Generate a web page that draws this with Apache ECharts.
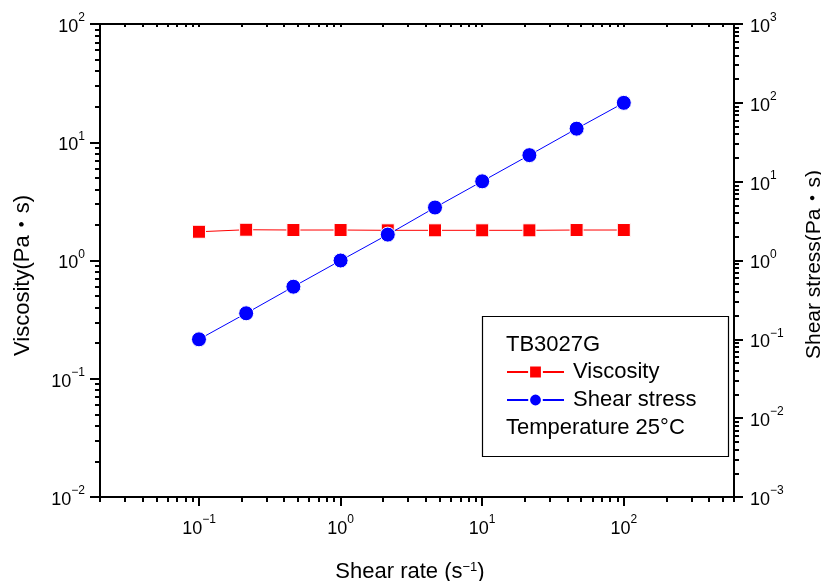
<!DOCTYPE html>
<html>
<head>
<meta charset="utf-8">
<script src="https://cdn.jsdelivr.net/npm/echarts@6/dist/echarts.min.js"></script>
<style>html,body{margin:0;padding:0;background:#fff;}#c{width:821px;height:581px;}</style>
</head>
<body>
<div id="c"></div>
<script>
// ---- data ----
const shearRate   = [0.1, 0.2154, 0.4642, 1, 2.154, 4.642, 10, 21.54, 46.42, 100];
const viscosity   = [1.75, 1.82, 1.81, 1.81, 1.80, 1.80, 1.80, 1.80, 1.81, 1.81];
const shearStress = [0.1, 0.214, 0.465, 1.0, 2.13, 4.7, 10.1, 21.7, 47, 100];

// ---- axis ticks ----
const xMajorTicks = [0.1, 1, 10, 100];
const yLeftMajorTicks = [0.01, 0.1, 1, 10, 100];
const yRightMajorTicks = [0.001, 0.01, 0.1, 1, 10, 100, 1000];
const minorMultipliers = [2, 3, 4, 5, 6, 7, 8, 9];
const xDecades = [0.01, 0.1, 1, 10, 100];
const yLeftDecades = [0.01, 0.1, 1, 10];
const yRightDecades = [0.001, 0.01, 0.1, 1, 10, 100];

function minorTicks(decades) {
  const out = [];
  decades.forEach(d => minorMultipliers.forEach(m => out.push(Number((d * m).toPrecision(6)))));
  return out;
}
const xMinorTicks = minorTicks(xDecades).filter(v => v >= 0.02 && v <= 600);
const yLeftMinorTicks = minorTicks(yLeftDecades);
const yRightMinorTicks = minorTicks(yRightDecades);

const FONT = 'Liberation Sans, Arial, Noto Sans CJK JP, sans-serif';

function powLabel(v) {
  const e = Math.round(Math.log10(v));
  return '{b|10}{s|' + (e < 0 ? '\u2212' + (-e) : e) + '}';
}
const labelRich = {
  b: { fontSize: 18, lineHeight: 24, verticalAlign: 'bottom', fontFamily: FONT, color: '#000' },
  s: { fontSize: 12, lineHeight: 12, verticalAlign: 'top', fontFamily: FONT, color: '#000' }
};
const lineBlack = { show: true, lineStyle: { color: '#000', width: 2 } };

const chart = echarts.init(document.getElementById('c'), null, { renderer: 'canvas' });
chart.setOption({
  animation: false,
  backgroundColor: '#fff',
  grid: { left: 100, right: 87, top: 24, bottom: 84, containLabel: false, outerBoundsMode: 'none' },
  xAxis: [
    {
      type: 'log', logBase: 10, min: 0.02, max: 600, position: 'bottom',
      axisLine: lineBlack, splitLine: { show: false },
      axisTick: { show: true, inside: false, length: 9, customValues: xMajorTicks, lineStyle: { color: '#000', width: 2 } },
      axisLabel: { show: true, margin: 17, customValues: xMajorTicks, formatter: powLabel, rich: labelRich },
      name: 'Shear rate (s{s|\u22121})', nameLocation: 'middle', nameGap: 64,
      nameTextStyle: { fontSize: 22, fontFamily: FONT, color: '#000', padding: [0, 14, 0, 0],
        rich: { s: { fontSize: 13, lineHeight: 13, verticalAlign: 'top', fontFamily: FONT, color: '#000' } } }
    },
    {
      type: 'log', logBase: 10, min: 0.02, max: 600, position: 'bottom',
      axisLine: { show: false }, splitLine: { show: false }, axisLabel: { show: false },
      axisTick: { show: true, inside: false, length: 5, customValues: xMinorTicks, lineStyle: { color: '#000', width: 2 } }
    },
    {
      type: 'log', logBase: 10, min: 0.02, max: 600, position: 'top',
      axisLine: lineBlack, splitLine: { show: false }, axisLabel: { show: false },
      axisTick: { show: true, inside: true, length: 3, customValues: xMinorTicks.concat(xMajorTicks), lineStyle: { color: '#000', width: 2 } }
    }
  ],
  yAxis: [
    {
      type: 'log', logBase: 10, min: 0.01, max: 100, position: 'left',
      axisLine: lineBlack, splitLine: { show: false },
      axisTick: { show: true, inside: false, length: 10, customValues: yLeftMajorTicks, lineStyle: { color: '#000', width: 2 } },
      axisLabel: { show: true, margin: 15, customValues: yLeftMajorTicks, formatter: powLabel, rich: labelRich },
      name: 'Viscosity(Pa\u30FBs)', nameLocation: 'middle', nameRotate: 90, nameGap: 66,
      nameTextStyle: { fontSize: 22, fontFamily: FONT, color: '#000', padding: [0, 30, 0, 0] }
    },
    {
      type: 'log', logBase: 10, min: 0.01, max: 100, position: 'left',
      axisLine: { show: false }, splitLine: { show: false }, axisLabel: { show: false },
      axisTick: { show: true, inside: false, length: 5, customValues: yLeftMinorTicks, lineStyle: { color: '#000', width: 2 } }
    },
    {
      type: 'log', logBase: 10, min: 0.001, max: 1000, position: 'right',
      axisLine: lineBlack, splitLine: { show: false },
      axisTick: { show: true, inside: false, length: 9, customValues: yRightMajorTicks, lineStyle: { color: '#000', width: 2 } },
      axisLabel: { show: true, margin: 16, customValues: yRightMajorTicks, formatter: powLabel, rich: labelRich },
      name: 'Shear stress(Pa\u30FBs)', nameLocation: 'middle', nameRotate: 90, nameGap: 70,
      nameTextStyle: { fontSize: 21, fontFamily: FONT, color: '#000', padding: [0, 8, 0, 0] }
    },
    {
      type: 'log', logBase: 10, min: 0.001, max: 1000, position: 'right',
      axisLine: { show: false }, splitLine: { show: false }, axisLabel: { show: false },
      axisTick: { show: true, inside: false, length: 5, customValues: yRightMinorTicks, lineStyle: { color: '#000', width: 2 } }
    }
  ],
  legend: {
    show: true, orient: 'vertical', left: 506, top: 361, padding: 0, itemGap: 6,
    itemWidth: 57, itemHeight: 16,
    textStyle: { fontSize: 22, fontFamily: FONT, color: '#000', padding: [0, 0, 0, 4] },
    data: ['Viscosity', 'Shear stress']
  },
  graphic: [
    { type: 'rect', shape: { x: 482.5, y: 316.5, width: 246, height: 140 }, style: { fill: 'none', stroke: '#000', lineWidth: 1.2 }, z: 10 },
    { type: 'text', left: 506, top: 334, style: { text: 'TB3027G', fontSize: 22, fontFamily: FONT, fill: '#000' }, z: 11 },
    { type: 'text', left: 506, top: 417, style: { text: 'Temperature 25\u00B0C', fontSize: 22, fontFamily: FONT, fill: '#000' }, z: 11 }
  ],
  series: [
    {
      name: 'Viscosity', type: 'line', xAxisIndex: 0, yAxisIndex: 0,
      data: shearRate.map((x, i) => [x, viscosity[i]]),
      symbol: 'rect', symbolSize: 13, showAllSymbol: true,
      lineStyle: { color: '#ff0000', width: 1 },
      itemStyle: { color: '#ff0000', borderColor: '#fff', borderWidth: 1 }
    },
    {
      name: 'Shear stress', type: 'line', xAxisIndex: 0, yAxisIndex: 2,
      data: shearRate.map((x, i) => [x, shearStress[i]]),
      symbol: 'circle', symbolSize: 15, showAllSymbol: true,
      lineStyle: { color: '#0000ff', width: 1 },
      itemStyle: { color: '#0000ff', borderColor: '#fff', borderWidth: 1 }
    }
  ]
});
</script>
</body>
</html>
